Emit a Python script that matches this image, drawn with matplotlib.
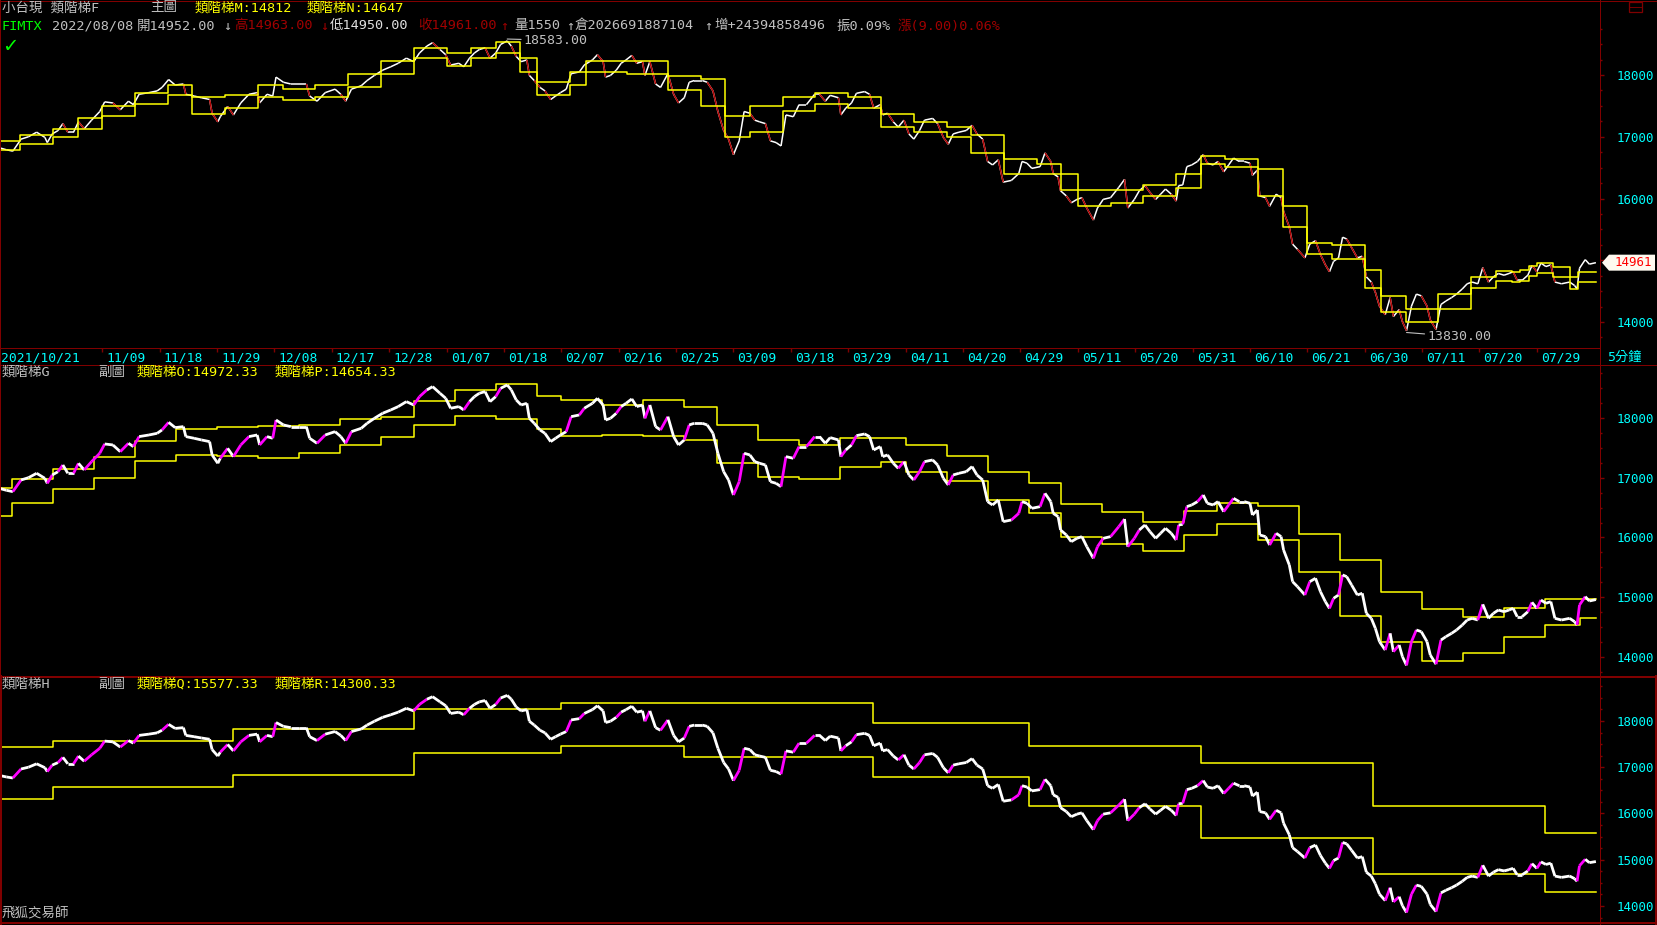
import numpy as np
import matplotlib
matplotlib.use("Agg")
import matplotlib.pyplot as plt
from matplotlib.collections import LineCollection
from matplotlib.lines import Line2D
from matplotlib.patches import Rectangle, Polygon

W, H = 1658, 925
plt.rcParams['font.family'] = ['DejaVu Sans Mono', 'Noto Sans CJK TC']

RED = '#800000'
CYAN = '#00ffff'
YEL = '#ffff00'
GRAY = '#c0c0c0'

# ---- price (close line), x in trading days since 2021/10/21 ----
price_day = [0.5, 1.3, 2.1, 3.1, 4.0, 5.0, 6.0, 6.3, 6.9, 7.6, 8.2, 8.8, 9.5, 10.1, 10.8, 11.7, 12.7, 13.3, 14.3, 15.2,
             16.2, 16.8, 17.5, 18.7, 19.7, 20.3, 21.1, 21.9, 22.9, 23.2, 24.2, 25.1, 26.1, 26.4, 27.1, 27.4, 28.3, 29.0, 29.9, 30.9,
             31.9, 32.2, 33.1, 33.8, 34.2, 35.1, 36.0, 37.0, 37.9, 38.3, 39.2, 40.2, 41.4, 42.1, 42.7, 43.4, 44.6, 45.3, 46.2, 47.2,
             48.2, 49.1, 50.1, 51.0, 51.7, 52.6, 53.3, 54.2, 54.9, 55.5, 56.5, 57.1, 57.8, 58.4, 59.0, 59.7, 60.3, 61.0, 61.6, 62.4,
             62.9, 63.5, 64.1, 64.8, 65.1, 65.7, 66.4, 67.0, 67.7, 68.3, 68.9, 69.6, 70.2, 71.2, 71.8, 72.8, 73.4, 74.1, 74.4, 75.0,
             75.7, 76.3, 76.9, 77.6, 78.2, 78.9, 79.2, 79.8, 80.5, 81.1, 82.0, 82.7, 83.3, 84.0, 84.6, 85.2, 86.2, 86.8, 87.5, 88.1,
             88.8, 89.4, 90.0, 90.7, 91.3, 92.0, 92.6, 93.2, 93.9, 94.5, 95.2, 95.8, 96.4,
             97.3, 98.0, 98.9, 99.9, 100.5, 101.2, 101.8, 102.8, 103.1, 103.7, 104.4, 105.0, 106.0, 106.6, 107.1, 107.9, 108.2, 108.8,
             109.5, 110.1, 110.8, 111.4, 112.0, 112.7, 113.3, 114.3, 114.9, 115.6, 116.2, 116.8, 117.5, 118.4, 119.1, 119.7, 120.4,
             121.0, 121.6, 122.3, 122.9, 123.9, 124.8, 125.2, 125.8, 126.4, 127.4, 128.0, 128.7, 129.0, 129.6, 129.9, 130.6, 131.2,
             131.9, 132.5, 133.1, 133.9, 134.4, 135.1, 136.0, 137.0, 137.7, 138.1, 138.9, 139.5, 140.2, 140.8, 141.5, 142.1, 142.7,
             143.4, 144.0, 144.3, 144.8, 145.3, 145.9, 146.6, 147.3, 147.8, 148.5, 149.1, 149.8, 150.4, 151.0, 151.7, 152.3, 153.0,
             153.3, 153.9, 154.2, 154.9, 155.4, 156.2, 156.8, 157.1, 157.8, 158.2, 158.8, 159.7, 160.3, 161.0, 161.6, 162.2, 162.7,
             163.2, 163.8, 164.3, 164.8, 165.4, 166.1, 166.7, 167.2, 167.8, 168.3, 168.8, 169.5, 170.1, 170.5, 171.2, 171.6, 172.1,
             172.7, 173.3, 173.9, 174.6, 175.0, 175.7, 176.3, 176.9, 177.6, 178.2, 178.9, 179.5, 180.1, 180.8, 181.4, 182.1, 182.7,
             183.3, 184.0, 184.6, 185.1, 185.6, 186.2, 186.9, 187.4, 188.0, 188.5, 189.1, 189.7, 190.2, 191.0, 192.0, 192.6, 192.9,
             193.2, 193.9, 194.4, 195.2]
price_val = [16820, 16790, 16767, 16962, 17000, 17074, 16990, 16906, 17046, 17100, 17213, 17074, 17074, 17241, 17130, 17269, 17409, 17565, 17548, 17436,
             17576, 17520, 17688, 17715, 17743, 17800, 17927, 17838, 17855, 17688, 17660, 17632, 17604, 17381, 17241, 17325, 17492, 17353, 17548, 17688,
             17715, 17548, 17688, 17660, 17966, 17883, 17855, 17855, 17855, 17660, 17576, 17715, 17771, 17688, 17576, 17771, 17827, 17910, 17994, 18078,
             18134, 18190, 18273, 18217, 18357, 18469, 18524, 18413, 18329, 18162, 18190, 18134, 18273, 18357, 18413, 18441, 18273, 18357, 18496, 18552,
             18469, 18301, 18217, 18245, 17994, 17910, 17799, 17743, 17604, 17660, 17715, 17771, 18022, 18050, 18162, 18245, 18329, 18217, 17966, 17994,
             18078, 18190, 18245, 18318, 18190, 18217, 17994, 18217, 17855, 17799, 18022, 17688, 17548, 17632, 17883, 17910, 17910, 17883, 17743, 17409,
             17102, 16962, 16711, 16934, 17409, 17381, 17269, 17241, 17213, 16934, 16906, 16851, 17353,
             17325, 17520, 17520, 17688, 17688, 17576, 17671, 17632, 17353, 17464, 17548, 17704, 17732, 17688, 17464, 17520, 17353, 17381,
             17241, 17158, 17269, 17046, 16962, 17102, 17269, 17297, 17213, 16990, 16879, 17046, 17074, 17102, 17186, 17046, 16962,
             16600, 16544, 16627, 16265, 16293, 16404, 16600, 16572, 16488, 16516, 16739, 16600, 16404, 16349, 16125, 16042, 15930,
             15986, 16014, 15846, 15651, 15846, 15986, 16014, 16181, 16309, 15846, 15986, 16125, 16209, 16098, 15986, 16070, 16153,
             16070, 15958, 16209, 16220, 16516, 16544, 16600, 16711, 16572, 16544, 16600, 16432, 16544, 16655, 16600, 16600, 16572,
             16376, 16460, 16042, 16014, 15874, 16070, 16014, 15791, 15540, 15261, 15177, 15038, 15261, 15317, 15093, 14926, 14814,
             14982, 15038, 15373, 15345, 15205, 15038, 15066, 14731, 14647, 14480, 14256, 14117, 14396, 14089, 14201, 14005, 13860,
             14256, 14452, 14424, 14256, 14033, 13880, 14284, 14340, 14396, 14452, 14535, 14619, 14647, 14619, 14881, 14647, 14731,
             14786, 14758, 14786, 14814, 14675, 14675, 14758, 14915, 14814, 14954, 14898, 14926, 14647, 14619, 14647, 14591, 14535,
             14870, 15010, 14937, 14961]

# ---- ladder M / N (main chart) ----
mn_start = [0.5, 3, 7, 10, 13, 17, 21, 24, 28, 32, 35, 39, 43, 47, 51, 55, 58, 61, 64, 66, 70, 72, 77, 82, 86, 89, 92, 96, 100, 104,
            108, 112, 116, 119, 123, 127, 130, 132, 136, 140, 144, 147, 150, 154, 157, 160, 163, 167, 169, 172, 176, 180, 183, 185, 186,
            187, 188, 190, 192, 193]
ladder_m = [16938, 17024, 17127, 17298, 17503, 17709, 17846, 17640, 17675, 17846, 17777, 17846, 18017, 18223, 18445, 18360, 18445, 18531, 18274, 17880,
            18051, 18223, 18223, 17983, 17932, 17332, 17503, 17640, 17709, 17640, 17366, 17247, 17161, 17024, 16647, 16562, 16390, 16134, 16134, 16219,
            16390, 16682, 16647, 16476, 15877, 15277, 15243, 14850, 14421, 14216, 14455, 14729, 14826, 14810, 14842, 14907, 14955, 14890, 14729, 14812]
ladder_n = [16784, 16887, 16990, 17127, 17332, 17538, 17675, 17366, 17469, 17640, 17589, 17640, 17812, 18017, 18274, 18154, 18274, 18360, 18051, 17675,
            17846, 18051, 18017, 17760, 17503, 16990, 17075, 17418, 17538, 17469, 17161, 17075, 16990, 16733, 16390, 16390, 16134, 15877, 15928, 16048,
            16168, 16562, 16510, 16048, 15534, 15106, 15021, 14558, 14164, 13993, 14216, 14558, 14664, 14648, 14664, 14745, 14793, 14729, 14534, 14647]

# ---- ladder O / P (weekly) ----
o_start = [0.5, 2, 7, 12, 17, 22, 27, 32, 37, 42, 47, 51, 56, 61, 66, 69, 74, 79, 84, 88, 93, 98, 103, 108, 111, 116, 121, 126,
           130, 135, 140, 145, 149, 154, 159, 164, 169, 174, 179, 184, 189]
ladder_o = [16830, 16973, 17141, 17342, 17609, 17810, 17844, 17866, 17877, 17983, 18022, 18279, 18463, 18563, 18363, 18301, 18218, 18301, 18178, 17877,
            17626, 17542, 17660, 17660, 17542, 17364, 17091, 16906, 16561, 16427, 16259, 16443, 16583, 16521, 16053, 15618, 15082, 14798, 14664, 14814,
            14972]
p_start = o_start + [193.25]
ladder_p = [16360, 16572, 16806, 16990, 17275, 17381, 17364, 17325, 17409, 17548, 17682, 17877, 18033, 17983, 17810, 17699, 17710, 17699, 17626, 17241,
            17007, 16973, 17174, 17269, 17102, 16940, 16622, 16404, 16003, 15886, 15774, 16036, 16220, 15958, 15417, 14686, 14256, 13933, 14067, 14336,
            14536, 14654]

# ---- ladder Q / R (monthly) ----
qr_start = [0.5, 7, 29, 51, 69, 84, 107, 126, 147, 168, 189]
ladder_q = [17429, 17566, 17817, 18251, 18389, 18389, 17954, 17451, 17086, 16171, 15577]
ladder_r = [16309, 16583, 16834, 17314, 17451, 17223, 16789, 16171, 15463, 14686, 14300]

date_pos = [0, 13, 20, 27, 34, 41, 48, 55, 62, 69, 76, 83, 90, 97, 104, 111, 118, 125, 132, 139, 146, 153, 160, 167, 174, 181, 188]
date_lbl = ['2021/10/21', '11/09', '11/18', '11/29', '12/08', '12/17', '12/28', '01/07', '01/18', '02/07', '02/16', '02/25',
            '03/09', '03/18', '03/29', '04/11', '04/20', '04/29', '05/11', '05/20', '05/31', '06/10', '06/21', '06/30',
            '07/11', '07/20', '07/29']

hi_day, hi_val = 62.4, 18583
lo_day, lo_val = 172.1, 13830
last_close = 14961
XMIN, XMAX = 0.53, 195.7
END = 195.2


def box(top, bottom, right=1600):
    return [0, 1 - bottom / H, right / W, (bottom - top) / H]


fig = plt.figure(figsize=(W / 100, H / 100), dpi=100, facecolor='black')


def setup(ax, ylim):
    ax.set_facecolor('black')
    ax.set_xlim(XMIN, XMAX)
    ax.set_ylim(*ylim)
    for s in ax.spines.values():
        s.set_visible(False)
    ax.set_xticks([])
    ax.yaxis.tick_right()
    ax.set_yticks([14000, 15000, 16000, 17000, 18000])
    ax.set_yticks(np.arange(13750, 19000, 250), minor=True)
    ax.tick_params(axis='y', which='major', length=3.2, width=1, color=RED,
                   labelcolor=CYAN, labelsize=9, pad=8.5)
    ax.tick_params(axis='y', which='minor', length=1.4, width=1, color=RED)
    for t in ax.get_yticklabels():
        t.set_fontfamily(['DejaVu Sans Mono'])


def ladder(ax, start, vals, lw=1.1, z=3):
    xs = list(start) + [END]
    ys = list(vals) + [vals[-1]]
    ax.step(xs, ys, where='post', color=YEL, lw=lw, zorder=z)


def price_line(ax, lw, up_col, down_col, thr):
    pts = np.column_stack([price_day, price_val])
    segs = np.stack([pts[:-1], pts[1:]], axis=1)
    d = np.diff(price_val)
    cols = [up_col if v > thr else down_col for v in d]
    ax.add_collection(LineCollection(segs, colors=cols, linewidths=lw, zorder=4, capstyle='butt'))


ax1 = fig.add_axes(box(0, 348))
setup(ax1, (13579, 19215))
price_line(ax1, 1.1, 'white', 'white', 0)
d = np.diff(price_val)
pts = np.column_stack([price_day, price_val])
down = [[pts[i], pts[i + 1]] for i in range(len(d)) if d[i] < -90]
ax1.add_collection(LineCollection(down, colors='#b00000', linewidths=1.1, zorder=5))
ladder(ax1, mn_start, ladder_m, z=6)
ladder(ax1, mn_start, ladder_n, z=6)
ax1.annotate('18583.00', xy=(hi_day, hi_val), xytext=(12, -1), textcoords='offset points',
             color=GRAY, fontsize=9.5, va='center', ha='left',
             arrowprops=dict(arrowstyle='-', color=GRAY, lw=0.8, shrinkA=0, shrinkB=0))
ax1.annotate('13830.00', xy=(lo_day, lo_val), xytext=(15, -3), textcoords='offset points',
             color=GRAY, fontsize=9.5, va='center', ha='left',
             arrowprops=dict(arrowstyle='-', color=GRAY, lw=0.8, shrinkA=0, shrinkB=0))

# last price marker on the right scale
fig.canvas.draw()
ypx = ax1.transData.transform((XMIN, last_close))[1]
yc = H - ypx
tag = [(1602, yc), (1609, yc - 8), (1655, yc - 8), (1655, yc + 8), (1609, yc + 8)]
fig.add_artist(Polygon([(x / W, 1 - y / H) for x, y in tag], closed=True, fc='#fffaf0', ec='none',
                       transform=fig.transFigure, zorder=10))
fig.text(1615 / W, 1 - yc / H, str(last_close), color='#ff0000', fontsize=9, va='center', ha='left',
         zorder=11)

axd = fig.add_axes(box(348, 365))
axd.set_facecolor('black')
axd.set_xlim(XMIN, XMAX)
axd.set_ylim(0, 1)
axd.axis('off')
for p, l in zip(date_pos, date_lbl):
    axd.vlines(p, 1 - 4 / 17, 1, color=RED, lw=1)
    axd.text(max(p + 0.5, XMIN + 0.1), 0.42, l, color=CYAN, fontsize=9.4, va='center', ha='left')

ax2 = fig.add_axes(box(365, 676))
setup(ax2, (13682, 18886))
ladder(ax2, o_start, ladder_o)
ladder(ax2, p_start, ladder_p)
price_line(ax2, 2.0, '#ff00ff', 'white', 100)

ax3 = fig.add_axes(box(677, 921))
setup(ax3, (13676, 18950))
ladder(ax3, qr_start, ladder_q)
ladder(ax3, qr_start, ladder_r)
price_line(ax3, 2.0, '#ff00ff', 'white', 100)


def fline(x0, y0, x1, y1, lw=1.0, c=RED):
    fig.add_artist(Line2D([x0 / W, x1 / W], [1 - y0 / H, 1 - y1 / H], color=c, lw=lw * 0.72,
                          transform=fig.transFigure))


fline(0, 0.5, W, 0.5)
fline(0.5, 0, 0.5, H)
fline(1600, 0, 1600, H)
fline(0, 348, 1600, 348)
fline(0, 365, W, 365)
fline(0, 676.5, W, 676.5, 2)
fline(1656, 676, 1656, H, 2)
fline(0, 922.5, W, 922.5, 2)
fline(1, 676, 1, H, 2)
fig.add_artist(Rectangle((1629 / W, 1 - 12 / H), 13 / W, 10 / H, fill=False, ec=RED, lw=0.9,
                         transform=fig.transFigure))
fline(1629, 7, 1642, 7, 0.9)


def T(x, y, s, c=GRAY, size=9.7):
    fig.text(x / W, 1 - y / H, s, color=c, fontsize=size, va='center', ha='left')


T(2, 8, '小台現 類階梯F')
T(150, 8, '主圖')
T(195, 8, '類階梯M:14812', YEL)
T(307, 8, '類階梯N:14647', YEL)
T(2, 26, 'FIMTX', '#00ff00')
T(52, 26, '2022/08/08')
T(137, 26, '開14952.00')
T(223, 26, '↓')
T(234, 26, '高14963.00', '#a00000')
T(320, 26, '↓', '#a00000')
T(330, 26, '低14950.00', '#e0e0e0')
T(418, 26, '收14961.00', '#a00000')
T(500, 26, '↑', '#a00000')
T(514, 26, '量1550')
T(566, 26, '↑')
T(575, 26, '倉2026691887104')
T(704, 26, '↑')
T(714, 26, '增+24394858496')
T(836, 26, '振0.09%')
T(898, 26, '漲(9.00)0.06%', '#a00000')
fig.text(2 / W, 1 - 47 / H, '✓', color='#00ff00', fontsize=14, fontweight='bold',
         va='center', ha='left', family=['DejaVu Sans'])
T(1607, 357, '5分鐘', CYAN, 9.5)

T(2, 372, '類階梯G')
T(98, 372, '副圖')
T(137, 372, '類階梯O:14972.33', YEL)
T(275, 372, '類階梯P:14654.33', YEL)
T(2, 684, '類階梯H')
T(98, 684, '副圖')
T(137, 684, '類階梯Q:15577.33', YEL)
T(275, 684, '類階梯R:14300.33', YEL)
T(2, 914, '飛狐交易師')

fig.savefig('out.png', dpi=100, facecolor='black')
